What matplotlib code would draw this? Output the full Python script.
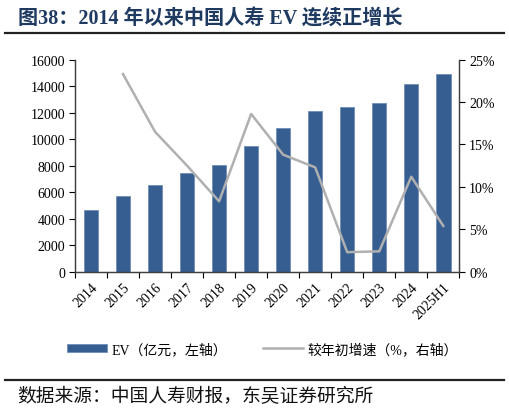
import matplotlib.pyplot as plt
import numpy as np

plt.rcParams['font.family'] = ['Liberation Serif', 'Noto Sans CJK SC']

years = ["2014", "2015", "2016", "2017", "2018", "2019", "2020",
         "2021", "2022", "2023", "2024", "2025H1"]
ev = [4620, 5690, 6580, 7440, 8020, 9510, 10820, 12130, 12410, 12720, 14130, 14920]
growth = [np.nan, 23.3, 16.5, 12.5, 8.3, 18.6, 13.8, 12.3, 2.3, 2.4, 11.2, 5.4]

bar_color = "#365E91"
line_color = "#B0B0B0"

fig = plt.figure(figsize=(5.09, 4.14), dpi=100)
ax = fig.add_axes([0.1473, 0.3413, 0.7551, 0.5121])
ax2 = ax.twinx()

x = np.arange(len(years))
ax.bar(x, ev, width=0.45, color=bar_color, edgecolor="#6F8FB8", linewidth=0.6,
       label="EV（亿元，左轴）", zorder=2)
ax2.plot(x, growth, color=line_color, linewidth=1.8, label="较年初增速（%，右轴）")

ax.set_xlim(-0.5, len(years) - 0.5)
ax.set_ylim(0, 16000)
ax.set_yticks(np.arange(0, 16001, 2000))
ax2.set_ylim(0, 25)
ax2.set_yticks(np.arange(0, 26, 5))
ax2.set_yticklabels([f"{v}%" for v in range(0, 26, 5)])

ax.set_xticks(np.arange(-0.5, len(years), 1), minor=False)
ax.set_xticklabels([])
ax.set_xticks(x, minor=True)
ax.set_xticklabels(years, minor=True, rotation=45, ha="right", rotation_mode="anchor")
ax.tick_params(axis="x", which="major", length=4, width=0.8, direction="out")
ax.tick_params(axis="x", which="minor", length=0, pad=6, labelsize=10)
ax.tick_params(axis="y", length=4, width=0.8, labelsize=10, pad=3)
ax2.tick_params(axis="y", length=4, width=0.8, labelsize=10, pad=3)

for a in (ax, ax2):
    a.spines["top"].set_visible(False)
    for s in ("left", "right", "bottom"):
        a.spines[s].set_color("#404040")
        a.spines[s].set_linewidth(0.9)

h1, l1 = ax.get_legend_handles_labels()
h2, l2 = ax2.get_legend_handles_labels()
fig.legend(h1 + h2, l1 + l2, loc="center", bbox_to_anchor=(0.515, 0.155), ncol=2,
           frameon=False, fontsize=10, handlelength=2.9, handleheight=0.6,
           columnspacing=2.6, handletextpad=0.3)

fig.text(0.035, 0.952, "图38：2014 年以来中国人寿 EV 连续正增长", fontsize=14.5,
         fontweight="bold", color="#1F3A60", va="center", ha="left")
fig.add_artist(plt.Line2D([0.01, 0.99], [0.918, 0.918], color="#222222", linewidth=1.6))
fig.add_artist(plt.Line2D([0.01, 0.99], [0.080, 0.080], color="#222222", linewidth=1.6))
fig.text(0.033, 0.041, "数据来源：中国人寿财报，东吴证券研究所", fontsize=13.5,
         color="#111111", va="center", ha="left")

fig.savefig("out.png", dpi=100)
